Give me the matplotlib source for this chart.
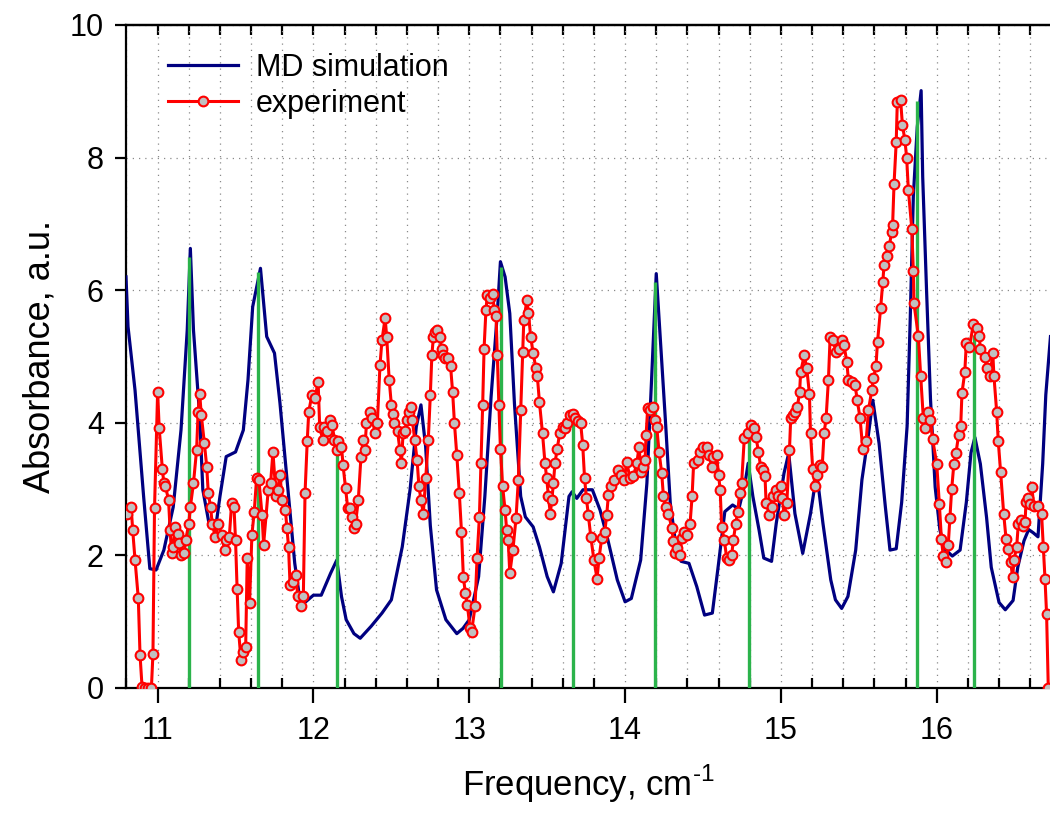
import matplotlib
matplotlib.use("Agg")
import matplotlib.pyplot as plt
from matplotlib.ticker import MultipleLocator
import numpy as np

plt.rcParams['font.family'] = ['Liberation Sans', 'DejaVu Sans']
plt.rcParams['mathtext.fontset'] = 'custom'
plt.rcParams['mathtext.rm'] = 'Liberation Sans'

# MD simulation spectrum
md_freq = [10.797, 10.81, 10.855, 10.91, 10.95, 10.99, 11.04, 11.10, 11.15, 11.19, 11.21,
           11.23, 11.25, 11.27, 11.29, 11.33, 11.37, 11.40, 11.44, 11.50, 11.55, 11.58,
           11.61, 11.66, 11.70, 11.75, 11.785, 11.84, 11.88, 11.91, 11.95, 12.0, 12.05,
           12.11, 12.15, 12.18, 12.21, 12.26, 12.30, 12.37, 12.44, 12.50, 12.57, 12.62,
           12.66, 12.69, 12.72, 12.75, 12.79, 12.85, 12.92, 12.96, 13.0, 13.06, 13.10,
           13.14, 13.18, 13.20, 13.23, 13.26, 13.29, 13.33, 13.36, 13.41, 13.45, 13.50,
           13.54, 13.59, 13.64, 13.66, 13.69, 13.73, 13.79, 13.84, 13.89, 13.95, 14.0,
           14.04, 14.10, 14.14, 14.17, 14.20, 14.22, 14.26, 14.29, 14.33, 14.36, 14.41,
           14.46, 14.51, 14.56, 14.60, 14.64, 14.69, 14.73, 14.77, 14.79, 14.82, 14.86,
           14.89, 14.94, 14.97, 15.02, 15.05, 15.09, 15.14, 15.19, 15.23, 15.27, 15.32,
           15.35, 15.39, 15.43, 15.48, 15.52, 15.56, 15.59, 15.63, 15.67, 15.70, 15.74,
           15.775, 15.81, 15.83, 15.85, 15.875, 15.90, 15.91, 15.935, 15.96, 15.99, 16.02,
           16.05, 16.10, 16.15, 16.19, 16.22, 16.245, 16.28, 16.32, 16.35, 16.40, 16.44,
           16.49, 16.52, 16.56, 16.59, 16.62, 16.65, 16.68, 16.70, 16.73]
md_abs = [6.2, 5.45, 4.49, 2.89, 1.80, 1.78, 2.08, 2.73, 3.89, 5.40, 6.63,
          5.40, 4.75, 4.09, 2.99, 2.48, 2.38, 2.89, 3.49, 3.56, 3.89, 4.65,
          5.75, 6.33, 5.30, 5.05, 4.30, 2.89, 1.88, 1.38, 1.30, 1.40, 1.40,
          1.73, 1.93, 1.38, 1.03, 0.82, 0.75, 0.93, 1.13, 1.33, 2.13, 2.99,
          3.94, 4.27, 3.64, 2.45, 1.48, 1.03, 0.82, 0.90, 1.03, 1.68, 2.89,
          4.39, 5.65, 6.43, 6.20, 5.65, 4.29, 2.89, 2.58, 2.43, 2.13, 1.68,
          1.45, 1.88, 2.89, 2.96, 2.86, 2.99, 2.99, 2.68, 2.23, 1.63, 1.30,
          1.35, 1.93, 3.09, 4.65, 6.25, 5.50, 3.99, 2.79, 2.08, 1.91, 1.88,
          1.53, 1.10, 1.13, 1.88, 2.66, 2.76, 2.70, 3.09, 3.39, 2.89, 2.38,
          1.96, 1.91, 2.48, 3.24, 3.54, 2.63, 2.03, 2.63, 3.24, 2.48, 1.63,
          1.33, 1.20, 1.38, 2.08, 3.14, 3.79, 4.34, 3.69, 2.74, 2.08, 2.10,
          2.80, 3.95, 5.57, 7.42, 8.46, 9.01, 7.71, 5.98, 4.36, 3.03, 2.39,
          2.10, 1.99, 2.08, 2.80, 3.55, 3.78, 3.38, 2.57, 1.82, 1.29, 1.18,
          1.32, 1.82, 2.22, 2.39, 2.34, 2.28, 3.38, 4.42, 5.30]

# experiment
exp_freq = [10.805, 10.83, 10.84, 10.855, 10.876, 10.887, 10.90, 10.92, 10.94, 10.96,
            10.97, 10.98, 11.0, 11.01, 11.03, 11.04, 11.05, 11.07, 11.08, 11.09,
            11.10, 11.11, 11.13, 11.14, 11.15, 11.17, 11.18, 11.20, 11.21, 11.23,
            11.25, 11.26, 11.27, 11.28, 11.30, 11.315, 11.325, 11.34, 11.35, 11.37,
            11.39, 11.41, 11.43, 11.44, 11.46, 11.475, 11.49, 11.50, 11.51, 11.52,
            11.535, 11.55, 11.565, 11.575, 11.59, 11.605, 11.62, 11.635, 11.65, 11.67,
            11.68, 11.71, 11.725, 11.74, 11.76, 11.77, 11.785, 11.80, 11.82, 11.83,
            11.84, 11.85, 11.87, 11.886, 11.90, 11.92, 11.935, 11.946, 11.96, 11.97,
            11.99, 12.01, 12.03, 12.04, 12.06, 12.07, 12.09, 12.106, 12.12, 12.135,
            12.15, 12.16, 12.18, 12.19, 12.206, 12.22, 12.235, 12.25, 12.26, 12.27,
            12.288, 12.305, 12.32, 12.33, 12.34, 12.36, 12.378, 12.395, 12.41, 12.427,
            12.44, 12.46, 12.47, 12.486, 12.50, 12.513, 12.52, 12.54, 12.555, 12.565,
            12.575, 12.587, 12.60, 12.613, 12.626, 12.635, 12.65, 12.665, 12.677, 12.69,
            12.705, 12.72, 12.737, 12.75, 12.76, 12.77, 12.78, 12.795, 12.81, 12.823,
            12.833, 12.844, 12.865, 12.88, 12.893, 12.905, 12.92, 12.936, 12.95, 12.962,
            12.975, 12.988, 13.005, 13.015, 13.037, 13.05, 13.065, 13.075, 13.086, 13.095,
            13.107, 13.116, 13.133, 13.15, 13.16, 13.172, 13.18, 13.19, 13.20, 13.214,
            13.23, 13.24, 13.25, 13.26, 13.28, 13.30, 13.315, 13.33, 13.343, 13.35,
            13.37, 13.38, 13.394, 13.41, 13.428, 13.437, 13.45, 13.47, 13.486, 13.497,
            13.508, 13.52, 13.53, 13.54, 13.55, 13.565, 13.58, 13.60, 13.614, 13.63,
            13.646, 13.664, 13.68, 13.70, 13.715, 13.728, 13.74, 13.752, 13.764, 13.78,
            13.80, 13.82, 13.833, 13.85, 13.87, 13.882, 13.893, 13.91, 13.93, 13.957,
            13.974, 13.995, 14.01, 14.032, 14.053, 14.075, 14.09, 14.102, 14.117, 14.128,
            14.135, 14.145, 14.16, 14.18, 14.192, 14.203, 14.218, 14.235, 14.246, 14.26,
            14.278, 14.30, 14.31, 14.32, 14.335, 14.353, 14.363, 14.38, 14.395, 14.417,
            14.43, 14.44, 14.466, 14.48, 14.503, 14.524, 14.54, 14.556, 14.567, 14.588,
            14.60, 14.61, 14.62, 14.637, 14.652, 14.667, 14.684, 14.695, 14.71, 14.723,
            14.735, 14.748, 14.765, 14.79, 14.81, 14.828, 14.84, 14.856, 14.87, 14.883,
            14.898, 14.905, 14.926, 14.94, 14.952, 14.97, 14.984, 15.0, 15.01, 15.02,
            15.038, 15.055, 15.063, 15.08, 15.09, 15.106, 15.12, 15.127, 15.15, 15.166,
            15.183, 15.19, 15.204, 15.22, 15.234, 15.25, 15.265, 15.277, 15.29, 15.305,
            15.316, 15.333, 15.354, 15.375, 15.39, 15.405, 15.423, 15.433, 15.455, 15.476,
            15.49, 15.508, 15.525, 15.547, 15.562, 15.583, 15.594, 15.61, 15.62, 15.64,
            15.654, 15.662, 15.68, 15.696, 15.71, 15.717, 15.726, 15.74, 15.747, 15.768,
            15.78, 15.796, 15.807, 15.818, 15.84, 15.85, 15.854, 15.882, 15.897, 15.914,
            15.925, 15.946, 15.96, 15.974, 16.0, 16.017, 16.03, 16.042, 16.06, 16.074,
            16.085, 16.096, 16.11, 16.124, 16.14, 16.154, 16.162, 16.18, 16.19, 16.21,
            16.235, 16.26, 16.273, 16.28, 16.31, 16.32, 16.342, 16.36, 16.367, 16.385,
            16.395, 16.41, 16.43, 16.445, 16.46, 16.475, 16.487, 16.496, 16.513, 16.524,
            16.54, 16.556, 16.567, 16.573, 16.588, 16.60, 16.61, 16.624, 16.652, 16.673,
            16.684, 16.695, 16.705, 16.716]
exp_abs = [2.63, 2.73, 2.38, 1.93, 1.35, 0.50, 0.02, 0.0, 0.0, 0.0,
           0.52, 2.71, 4.47, 3.92, 3.31, 3.09, 3.04, 2.84, 2.38, 2.03,
           2.13, 2.43, 2.33, 2.18, 2.01, 2.03, 2.23, 2.48, 2.73, 3.09,
           3.59, 4.17, 4.44, 4.12, 3.69, 3.34, 2.94, 2.73, 2.48, 2.28,
           2.48, 2.31, 2.08, 2.23, 2.28, 2.79, 2.73, 2.23, 1.50, 0.85,
           0.42, 0.55, 0.62, 1.96, 1.28, 2.31, 2.66, 3.16, 3.14, 2.61,
           2.16, 2.99, 3.09, 3.56, 2.89, 2.99, 3.21, 2.84, 2.68, 2.41,
           2.13, 1.55, 1.60, 1.70, 1.38, 1.23, 1.38, 2.94, 3.72, 4.17,
           4.42, 4.37, 4.62, 3.94, 3.74, 3.94, 3.87, 4.04, 3.97, 3.74,
           3.59, 3.72, 3.64, 3.36, 3.01, 2.71, 2.71, 2.58, 2.41, 2.48,
           2.84, 3.49, 3.74, 3.59, 3.99, 4.17, 4.07, 3.84, 3.99, 4.87,
           5.25, 5.58, 5.30, 4.65, 4.27, 4.14, 3.99, 3.87, 3.59, 3.39,
           3.84, 3.87, 4.04, 4.17, 4.24, 4.04, 3.74, 3.44, 3.04, 2.84,
           2.63, 3.16, 3.74, 4.42, 5.02, 5.30, 5.37, 5.40, 5.30, 5.12,
           5.02, 4.97, 4.97, 4.85, 4.47, 3.99, 3.51, 2.94, 2.36, 1.68,
           1.43, 1.25, 0.90, 0.85, 1.23, 1.96, 2.58, 3.39, 4.27, 5.12,
           5.70, 5.93, 5.88, 5.95, 5.70, 5.61, 5.02, 4.27, 3.61, 3.04,
           2.68, 2.38, 2.23, 1.73, 2.08, 2.56, 3.14, 4.19, 5.07, 5.55,
           5.85, 5.65, 5.30, 5.05, 4.82, 4.70, 4.32, 3.84, 3.39, 3.16,
           2.89, 2.63, 2.84, 3.09, 3.39, 3.61, 3.84, 3.94, 3.92, 3.99,
           4.12, 4.14, 4.07, 4.02, 3.99, 3.67, 3.16, 2.86, 2.61, 2.28,
           1.93, 1.65, 1.96, 2.26, 2.36, 2.61, 2.91, 3.04, 3.14, 3.29,
           3.21, 3.14, 3.41, 3.16, 3.19, 3.39, 3.64, 3.26, 3.34, 3.44,
           3.82, 4.22, 4.19, 4.24, 4.04, 3.94, 3.56, 3.24, 2.89, 2.73,
           2.63, 2.41, 2.21, 2.03, 2.11, 2.01, 2.26, 2.36, 2.31, 2.48,
           2.89, 3.39, 3.44, 3.56, 3.64, 3.64, 3.51, 3.34, 3.49, 3.51,
           3.21, 2.99, 2.43, 2.23, 1.96, 1.93, 2.01, 2.23, 2.48, 2.66,
           2.94, 3.09, 3.77, 3.84, 3.97, 3.92, 3.79, 3.56, 3.34, 3.29,
           3.19, 2.79, 2.61, 2.73, 2.89, 2.99, 2.89, 3.04, 2.86, 2.61,
           2.79, 3.59, 4.07, 4.12, 4.17, 4.24, 4.47, 4.77, 5.02, 4.82,
           4.44, 3.84, 3.31, 3.04, 3.21, 3.36, 3.34, 3.84, 4.07, 4.65,
           5.30, 5.25, 5.07, 5.12, 5.25, 5.17, 4.92, 4.65, 4.62, 4.57,
           4.34, 4.07, 3.61, 3.72, 4.19, 4.49, 4.67, 4.85, 5.22, 5.73,
           6.13, 6.38, 6.51, 6.66, 6.88, 6.99, 7.60, 8.23, 8.84, 8.87,
           8.49, 8.26, 8.00, 7.51, 6.93, 6.29, 5.80, 5.31, 4.71, 4.07,
           3.92, 4.16, 4.04, 3.75, 3.38, 2.77, 2.25, 1.99, 1.90, 2.16,
           2.57, 3.00, 3.38, 3.55, 3.81, 3.95, 4.45, 4.76, 5.20, 5.14,
           5.49, 5.43, 5.31, 5.11, 4.99, 4.82, 4.71, 5.05, 4.71, 4.16,
           3.72, 3.26, 2.62, 2.25, 2.10, 1.90, 1.67, 1.93, 2.13, 2.48,
           2.54, 2.45, 2.51, 2.80, 2.86, 2.77, 3.03, 2.74, 2.74, 2.62,
           2.13, 1.64, 1.12, 0.0]

# calculated line positions (sticks)
stick_freq = [11.2, 11.645, 12.148, 13.203, 13.668, 14.19, 14.798, 15.875, 16.24]
stick_abs = [6.5, 6.28, 3.64, 6.35, 4.09, 6.12, 3.95, 8.85, 5.32]

fig = plt.figure(figsize=(10.5, 8.14), dpi=100)
ax = fig.add_axes([0.12, 0.1548, 0.88, 0.8145])

ax.plot(md_freq, md_abs, color='#000080', lw=2.3, zorder=3, label='MD simulation')
ax.vlines(stick_freq, 0, stick_abs, color='#2bb34b', lw=2.4, zorder=4)
ax.plot(exp_freq, exp_abs, color='#ff0000', lw=2.2, marker='o', ms=7,
        mfc='#c0c0c0', mec='#ff0000', mew=1.5, zorder=5, label='experiment')

ax.set_xlim(10.797, 16.727)
ax.set_ylim(0, 10)
ax.xaxis.set_major_locator(MultipleLocator(1))
ax.xaxis.set_minor_locator(MultipleLocator(0.2))
ax.yaxis.set_major_locator(MultipleLocator(2))

ax.grid(which='both', axis='x', color='#8a8a8a', ls=(0, (1, 4)), lw=0.9)
ax.grid(which='major', axis='y', color='#8a8a8a', ls=(0, (1, 4)), lw=0.9)
ax.set_axisbelow(True)

ax.spines['right'].set_visible(False)
for s in ['left', 'bottom', 'top']:
    ax.spines[s].set_linewidth(1.6)

ax.tick_params(axis='x', which='major', direction='out', length=11, width=1.6,
               labelsize=22, pad=9)
ax.tick_params(axis='x', which='minor', direction='in', length=7, width=1.6)
ax.tick_params(axis='y', which='major', direction='out', length=8, width=1.6,
               labelsize=22, pad=8)

top = ax.secondary_xaxis('top')
top.set_xticks(np.arange(11.0, 16.8, 0.2))
top.tick_params(direction='in', length=7, width=1.6, labeltop=False)
top.spines['top'].set_linewidth(1.6)

ax.set_xlabel(r'Frequency, cm$^{\text{-1}}$', fontsize=25, labelpad=12)
ax.set_ylabel('Absorbance, a.u.', fontsize=26, labelpad=9)

ax.legend(loc='upper left', bbox_to_anchor=(0.045, 0.958), frameon=False,
          fontsize=22, handlelength=2.3, handletextpad=0.6, labelspacing=0.2,
          borderpad=0, borderaxespad=0)

fig.savefig('out.png', dpi=100)
